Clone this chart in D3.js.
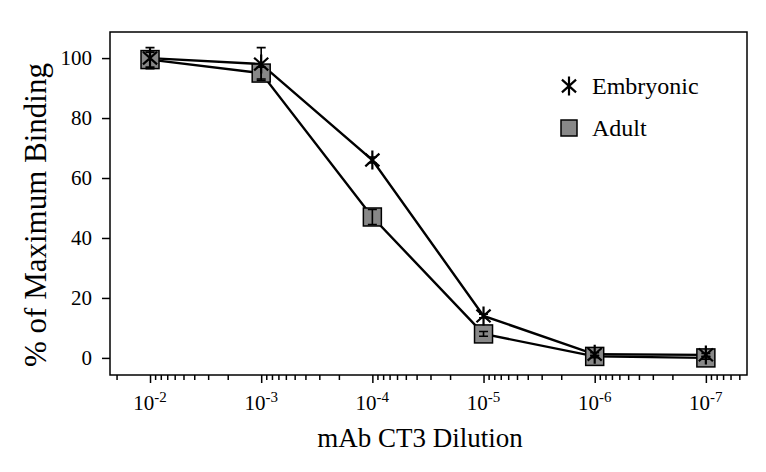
<!DOCTYPE html>
<html>
<head>
<meta charset="utf-8">
<script src="https://cdn.jsdelivr.net/npm/d3@7"></script>
<style>
  body { margin: 0; background: #fff; }
  svg text { font-family: "Liberation Serif", Tinos, "Times New Roman", Times, "DejaVu Serif", serif !important; }
</style>
</head>
<body>
<svg width="766" height="472"></svg>
<script>
const dilutions = [1e-2, 1e-3, 1e-4, 1e-5, 1e-6, 1e-7];
const exponents = ["-2", "-3", "-4", "-5", "-6", "-7"];
const embryonic = [100, 98, 66, 14, 1.2, 1];
const embryonicErr = [3.5, 5.5, 1, 0.6, 0.5, 0.5];
const adult = [99.5, 95, 47, 8, 0.5, 0];
const adultErr = [2.5, 2, 2.5, 0.8, 0.4, 0.4];
const yTicks = [0, 20, 40, 60, 80, 100];

const margin = { left: 110, right: 747, top: 32, bottom: 375 };
const svg = d3.select("svg");

const x = d3.scaleLog()
  .domain([Math.pow(10, -1.64), Math.pow(10, -7.37)])
  .range([margin.left, margin.right]);
const y = d3.scaleLinear()
  .domain([-5.7, 108.7])
  .range([margin.bottom, margin.top]);

// minor log ticks inside the domain
const minor = [];
for (let d = -8; d <= -1; d++) {
  for (let k = 2; k <= 9; k++) {
    const v = k * Math.pow(10, d);
    if (v <= x.domain()[0] && v >= x.domain()[1]) minor.push(v);
  }
}

const xMajor = svg.append("g")
  .attr("transform", `translate(0,${margin.bottom})`)
  .call(d3.axisBottom(x).tickValues(dilutions).tickSize(8).tickFormat(() => ""));
const xMinor = svg.append("g")
  .attr("transform", `translate(0,${margin.bottom})`)
  .call(d3.axisBottom(x).tickValues(minor).tickSize(5).tickFormat(() => ""));
[xMajor, xMinor].forEach(g => {
  g.select(".domain").remove();
  g.selectAll("line").attr("stroke", "#000").attr("stroke-width", 1.5);
});

const xLabels = svg.append("g").selectAll("text")
  .data(dilutions)
  .enter().append("text")
  .attr("x", d => x(d))
  .attr("y", 410)
  .attr("text-anchor", "middle")
  .style("font-size", "21px");
xLabels.append("tspan").text("10");
xLabels.append("tspan")
  .attr("dy", -8)
  .style("font-size", "15px")
  .text((d, i) => exponents[i]);

const yAxis = svg.append("g")
  .attr("transform", `translate(${margin.left},0)`)
  .call(d3.axisLeft(y).tickValues(yTicks).tickSize(8).tickPadding(10));
yAxis.select(".domain").remove();
yAxis.selectAll("line").attr("stroke", "#000").attr("stroke-width", 1.5);
yAxis.selectAll("text")
  .style("font-size", "21px")
  .attr("fill", "#000");

svg.append("rect")
  .attr("x", margin.left)
  .attr("y", margin.top)
  .attr("width", margin.right - margin.left)
  .attr("height", margin.bottom - margin.top)
  .attr("fill", "none")
  .attr("stroke", "#000")
  .attr("stroke-width", 1.5);

// axis titles
svg.append("text")
  .attr("x", 420)
  .attr("y", 447)
  .attr("text-anchor", "middle")
  .style("font-size", "27px")
  .text("mAb CT3 Dilution");

svg.append("text")
  .attr("transform", "translate(46,215) rotate(-90)")
  .attr("text-anchor", "middle")
  .style("font-size", "31px")
  .text("% of Maximum Binding");

const line = d3.line()
  .x(d => x(d.x))
  .y(d => y(d.y));

const embData = dilutions.map((d, i) => ({ x: d, y: embryonic[i], e: embryonicErr[i] }));
const adData = dilutions.map((d, i) => ({ x: d, y: adult[i], e: adultErr[i] }));

[embData, adData].forEach(data => {
  svg.append("path")
    .datum(data)
    .attr("d", line)
    .attr("fill", "none")
    .attr("stroke", "#000")
    .attr("stroke-width", 2.4);
});

const asterisk = r => {
  const a = 42 * Math.PI / 180;
  const dx = r * Math.cos(a), dy = r * Math.sin(a);
  return `M0,${-r}L0,${r}M${-dx},${-dy}L${dx},${dy}M${-dx},${dy}L${dx},${-dy}`;
};

const square = (g, s) => g.append("rect")
  .attr("x", -s / 2).attr("y", -s / 2)
  .attr("width", s).attr("height", s)
  .attr("fill", "#888")
  .attr("stroke", "#000")
  .attr("stroke-width", 1.5);

svg.append("g").selectAll("g")
  .data(adData)
  .enter().append("g")
  .attr("transform", d => `translate(${x(d.x)},${y(d.y)})`)
  .each(function() { square(d3.select(this), 18); });

svg.append("g").selectAll("path")
  .data(embData)
  .enter().append("path")
  .attr("transform", d => `translate(${x(d.x)},${y(d.y)})`)
  .attr("d", asterisk(9.5))
  .attr("stroke", "#000")
  .attr("stroke-width", 2.2)
  .attr("fill", "none");

// error bars
svg.append("g").selectAll("path")
  .data(embData.concat(adData))
  .enter().append("path")
  .attr("d", d => {
    const cx = x(d.x), y1 = y(d.y + d.e), y2 = y(d.y - d.e), w = 4.5;
    return `M${cx},${y1}L${cx},${y2}M${cx - w},${y1}L${cx + w},${y1}M${cx - w},${y2}L${cx + w},${y2}`;
  })
  .attr("stroke", "#000")
  .attr("stroke-width", 1.6)
  .attr("fill", "none");

// legend
const legend = svg.append("g");
legend.append("path")
  .attr("transform", "translate(569,86)")
  .attr("d", asterisk(9.5))
  .attr("stroke", "#000")
  .attr("stroke-width", 2.2);
legend.append("text")
  .attr("x", 592).attr("y", 94)
  .style("font-size", "24px")
  .text("Embryonic");
const lsq = legend.append("g").attr("transform", "translate(569,128)");
square(lsq, 16);
legend.append("text")
  .attr("x", 592).attr("y", 136)
  .style("font-size", "24px")
  .text("Adult");
</script>
</body>
</html>
